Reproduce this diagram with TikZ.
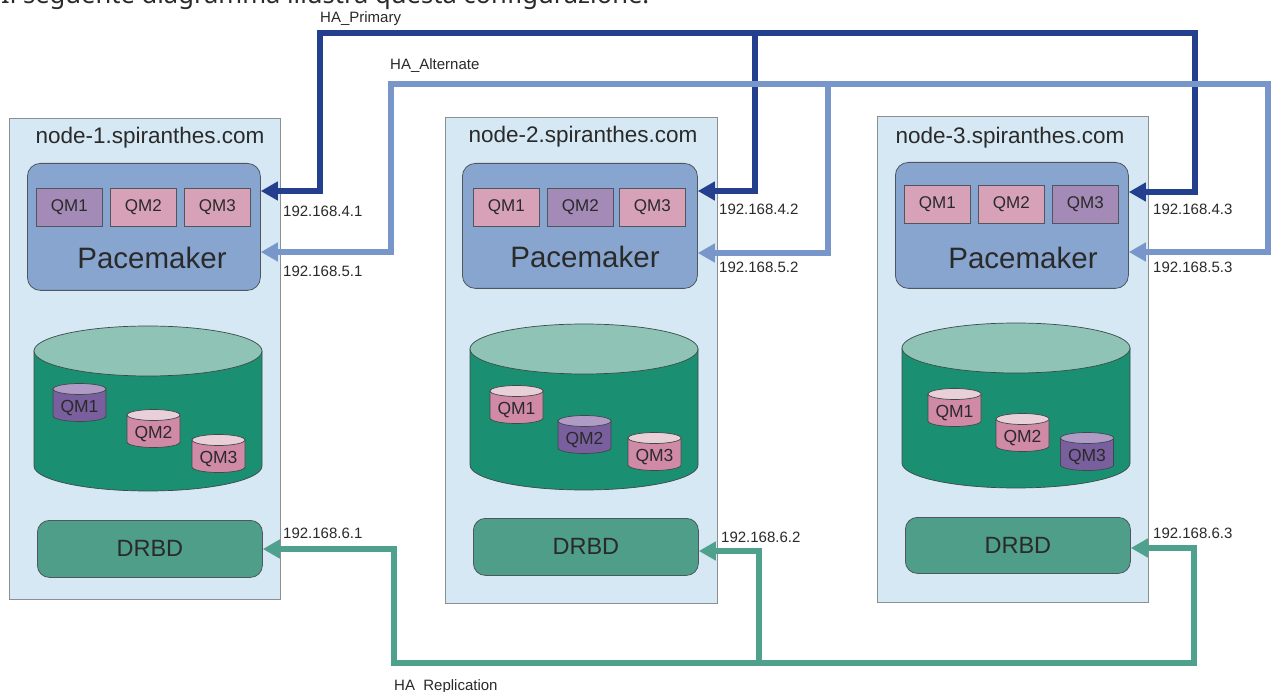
\documentclass[tikz,border=0pt]{standalone}
\usepackage{fontspec}
\setmainfont{Liberation Sans}
\newfontfamily\titlefont{Noto Sans}
\usetikzlibrary{arrows.meta}
\definecolor{txt}{HTML}{2A2A2A}
\definecolor{boxfill}{HTML}{D5E8F4}
\definecolor{boxline}{HTML}{8A8F94}
\definecolor{darkline}{HTML}{4F565C}
\definecolor{pmfill}{HTML}{88A5CF}
\definecolor{qmpink}{HTML}{D7A2B7}
\definecolor{qmpurple}{HTML}{A48AB6}
\definecolor{drbdfill}{HTML}{4E9E8A}
\definecolor{bigbody}{HTML}{1B8F72}
\definecolor{bigtop}{HTML}{8EC3B5}
\definecolor{spbody}{HTML}{7A5F9E}
\definecolor{sptop}{HTML}{AF9BC6}
\definecolor{skbody}{HTML}{D08AA6}
\definecolor{sktop}{HTML}{E9CFD8}
\definecolor{primc}{HTML}{233F8E}
\definecolor{altc}{HTML}{7896C9}
\definecolor{replc}{HTML}{4FA08C}
\definecolor{cylline}{HTML}{3E4A48}
\newcommand\drum[7]{%
  \filldraw[fill=#6, draw=cylline, line width=0.7pt] (#1-#3,#2) -- (#1-#3,#2+#5)
    arc[start angle=180, end angle=0, x radius=#3, y radius=#4] -- (#1+#3,#2) -- cycle;
  \filldraw[fill=#7, draw=cylline, line width=0.7pt] (#1,#2) ellipse[x radius=#3, y radius=#4];
}
\begin{document}
\begin{tikzpicture}[x=1pt,y=-1pt,
  >={Triangle[length=17pt,width=18pt]},
  nodebox/.style={draw=boxline, fill=boxfill, line width=0.9pt, inner sep=0, anchor=north west},
  pmbox/.style={draw=darkline, fill=pmfill, rounded corners=13pt, line width=0.8pt, inner sep=0, anchor=north west},
  qmbox/.style={draw=darkline, line width=0.8pt, minimum width=66pt, minimum height=38pt, inner sep=0, anchor=north west, font=\fontsize{17}{20}\selectfont, text=txt},
  qmp/.style={qmbox, fill=qmpink},
  qmv/.style={qmbox, fill=qmpurple},
  drbdbox/.style={draw=darkline, fill=drbdfill, rounded corners=12pt, line width=0.8pt, minimum width=225pt, minimum height=57pt, inner sep=0, anchor=north west, font=\fontsize{23.5}{26}\selectfont, text=txt},
  hosttitle/.style={font=\fontsize{22.5}{26}\selectfont, text=txt, inner sep=0},
  pmtext/.style={font=\fontsize{29.5}{34}\selectfont, text=txt, inner sep=0},
  cyltext/.style={font=\fontsize{17.5}{20}\selectfont, text=txt, inner sep=0},
  ip/.style={font=\fontsize{15}{18}\selectfont, text=txt, anchor=west, inner sep=0},
  prim/.style={line width=6.5pt, draw=primc},
  alt/.style={line width=5.5pt, draw=altc},
  repl/.style={line width=5.5pt, draw=replc}
]
\useasboundingbox (0,0) rectangle (1272,692);
\clip (0,0) rectangle (1272,692);
\fill[white] (0,0) rectangle (1272,692);

% heading (cut off at the top)
\node[anchor=base west, inner sep=0, text=txt] (head) at (1,4)
  {\resizebox{648pt}{!}{\titlefont Il seguente diagramma illustra questa configurazione.}};

% host boxes
\node[nodebox, minimum width=271pt, minimum height=481pt] (n1) at (9,118) {};
\node[nodebox, minimum width=272pt, minimum height=486pt] (n2) at (445,117) {};
\node[nodebox, minimum width=271pt, minimum height=486pt] (n3) at (877,116) {};
\node[hosttitle] (t1) at (150,138) {node-1.spiranthes.com};
\node[hosttitle] (t2) at (583,137) {node-2.spiranthes.com};
\node[hosttitle] (t3) at (1010,138) {node-3.spiranthes.com};

% pacemaker boxes
\node[pmbox, minimum width=233pt, minimum height=127pt] (pm1) at (27,163) {};
\node[pmbox, minimum width=235pt, minimum height=125pt] (pm2) at (462,163) {};
\node[pmbox, minimum width=233pt, minimum height=126pt] (pm3) at (895,162) {};
\node[pmtext] (pt1) at (152,258) {Pacemaker};
\node[pmtext] (pt2) at (585,257) {Pacemaker};
\node[pmtext] (pt3) at (1023,258) {Pacemaker};

\node[qmv] (q11) at (36,188) {QM1};
\node[qmp] (q12) at (110,188) {QM2};
\node[qmp] (q13) at (184,188) {QM3};
\node[qmp] (q21) at (473,188) {QM1};
\node[qmv] (q22) at (547,188) {QM2};
\node[qmp] (q23) at (619,188) {QM3};
\node[qmp] (q31) at (904,185) {QM1};
\node[qmp] (q32) at (978,185) {QM2};
\node[qmv] (q33) at (1052,185) {QM3};

% storage cylinders
\drum{148}{351}{114}{25}{115}{bigbody}{bigtop}
\drum{584}{349}{114}{25}{116}{bigbody}{bigtop}
\drum{1016}{348}{114}{25}{115}{bigbody}{bigtop}

\drum{79.5}{389}{26.5}{5.5}{27}{spbody}{sptop}
\drum{153.5}{415}{26.5}{5.5}{27}{skbody}{sktop}
\drum{218.5}{440}{26.5}{5.5}{27}{skbody}{sktop}
\node[cyltext] (c11) at (79.5,408) {QM1};
\node[cyltext] (c12) at (153.5,434) {QM2};
\node[cyltext] (c13) at (218.5,459) {QM3};

\drum{516.5}{391}{26.5}{5.5}{27}{skbody}{sktop}
\drum{584.5}{421}{26.5}{5.5}{27}{spbody}{sptop}
\drum{654.5}{438}{26.5}{5.5}{27}{skbody}{sktop}
\node[cyltext] (c21) at (516.5,410) {QM1};
\node[cyltext] (c22) at (584.5,440) {QM2};
\node[cyltext] (c23) at (654.5,457) {QM3};

\drum{954.5}{394}{26.5}{5.5}{27}{skbody}{sktop}
\drum{1022.5}{419}{26.5}{5.5}{27}{skbody}{sktop}
\drum{1087}{438}{26.5}{5.5}{27}{spbody}{sptop}
\node[cyltext] (c31) at (954.5,413) {QM1};
\node[cyltext] (c32) at (1022.5,438) {QM2};
\node[cyltext] (c33) at (1087,457) {QM3};

% DRBD
\node[drbdbox] (d1) at (37,520) {DRBD};
\node[drbdbox] (d2) at (473,518) {DRBD};
\node[drbdbox, minimum height=56pt] (d3) at (905,517) {DRBD};

% bus coordinates
\coordinate (pL) at (320,33);  \coordinate (pM) at (755,33);  \coordinate (pR) at (1195,33);
\coordinate (pL1) at (320,191); \coordinate (pM1) at (755,191); \coordinate (pR1) at (1195,192);
\coordinate (aL) at (391,84);  \coordinate (aM) at (828,84);  \coordinate (aR) at (1268,84);
\coordinate (aL1) at (391,252); \coordinate (aM1) at (828,253); \coordinate (aR1) at (1268,252);
\coordinate (rL) at (394,663); \coordinate (rM) at (759,663); \coordinate (rR) at (1194,663);
\coordinate (rL1) at (394,549); \coordinate (rM1) at (759,551); \coordinate (rR1) at (1194,548);

% HA_Primary
\draw[prim,<->] (pL1 -| pm1.east) -- (pL1) -- (pL) -- (pR) -- (pR1) -- (pR1 -| pm3.east);
\draw[prim,->] (pM) -- (pM1) -- (pM1 -| pm2.east);
% HA_Alternate
\draw[alt,<->] (aL1 -| pm1.east) -- (aL1) -- (aL) -- (aR) -- (aR1) -- (aR1 -| pm3.east);
\draw[alt,->] (aM) -- (aM1) -- (aM1 -| pm2.east);
% HA_Replication
\draw[repl,<->] (rL1 -| d1.east) -- (rL1) -- (rL) -- (rR) -- (rR1) -- (rR1 -| d3.east);
\draw[repl,->] (rM) -- (rM1) -- (rM1 -| d2.east);

% labels
\node[ip] (lp) at (320,19) {HA\_Primary};
\node[ip] (la) at (390,66) {HA\_Alternate};
\node[ip] (lr) at (394,686.5) {HA\_Replication};
\node[ip] (i41) at (283,211) {192.168.4.1};
\node[ip] (i51) at (283,271) {192.168.5.1};
\node[ip] (i42) at (719,209) {192.168.4.2};
\node[ip] (i52) at (719,267) {192.168.5.2};
\node[ip] (i43) at (1153,209) {192.168.4.3};
\node[ip] (i53) at (1153,267) {192.168.5.3};
\node[ip] (i61) at (283,533) {192.168.6.1};
\node[ip] (i62) at (721,537) {192.168.6.2};
\node[ip] (i63) at (1153,533) {192.168.6.3};
\end{tikzpicture}
\end{document}
